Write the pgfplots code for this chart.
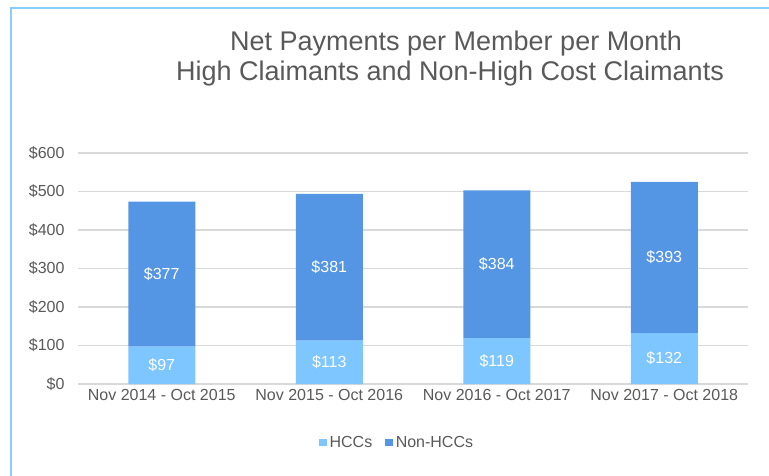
\documentclass[border=0pt]{standalone}
\usepackage{pgfplots}
\pgfplotsset{compat=1.18}
\usepackage{fontspec}
\setmainfont{Liberation Sans}
\definecolor{hcc}{HTML}{7DC6FF}
\definecolor{nonhcc}{HTML}{5596E4}
\definecolor{gridc}{HTML}{D9D9D9}
\definecolor{txt}{HTML}{595959}
\definecolor{bordc}{HTML}{8DCBFF}
\tikzset{barlab/.style={text=white, font=\fontsize{16bp}{18bp}\selectfont}}
\begin{document}
\begin{tikzpicture}[x=1bp,y=1bp]
\useasboundingbox (0,0) rectangle (769,-476);
\draw[bordc, line width=2bp] (11,-477) -- (11,-8) -- (770,-8);
\node[anchor=base, text=txt, font=\fontsize{27bp}{30bp}\selectfont, inner sep=0] at (456,-51) {Net Payments per Member per Month};
\node[anchor=base, text=txt, font=\fontsize{27bp}{30bp}\selectfont, inner sep=0] at (450,-81) {High Claimants and Non-High Cost Claimants};
\begin{axis}[
  at={(78bp,-384bp)}, anchor=south west,
  scale only axis, width=670bp, height=231bp,
  ybar stacked, bar width=67bp,
  xmin=-0.5, xmax=3.5, ymin=0, ymax=600,
  xtick={0,1,2,3},
  xticklabels={Nov 2014 - Oct 2015, Nov 2015 - Oct 2016, Nov 2016 - Oct 2017, Nov 2017 - Oct 2018},
  ytick={0,100,200,300,400,500,600},
  yticklabels={\$0,\$100,\$200,\$300,\$400,\$500,\$600},
  ymajorgrids, grid style={gridc, line width=1.2bp},
  axis line style={draw=none}, tick style={draw=none},
  ticklabel style={text=txt, font=\fontsize{16bp}{18bp}\selectfont},
  yticklabel style={xshift=-10bp},
  xticklabel style={yshift=-2bp},
  legend style={at={(0.477,-0.255)}, anchor=center, draw=none, fill=none,
    legend columns=2, font=\fontsize{16bp}{18bp}\selectfont, text=txt,
    /tikz/every even column/.append style={column sep=10bp},
    nodes={inner xsep=3bp}},
  legend cell align=left,
  legend image code/.code={\fill[#1, draw=none] (0bp,-3.5bp) rectangle (7.5bp,4bp);},
  after end axis/.code={
    \node[barlab] at (axis cs:0,48.5) {\$97};
    \node[barlab] at (axis cs:1,56.5) {\$113};
    \node[barlab] at (axis cs:2,59.5) {\$119};
    \node[barlab] at (axis cs:3,66) {\$132};
    \node[barlab] at (axis cs:0,285.5) {\$377};
    \node[barlab] at (axis cs:1,303.5) {\$381};
    \node[barlab] at (axis cs:2,311) {\$384};
    \node[barlab] at (axis cs:3,328.5) {\$393};
  },
]
\addplot[fill=hcc, draw=none] coordinates {(0,97) (1,113) (2,119) (3,132)};
\addplot[fill=nonhcc, draw=none] coordinates {(0,377) (1,381) (2,384) (3,393)};
\legend{HCCs, Non-HCCs}
\end{axis}
\end{tikzpicture}
\end{document}
